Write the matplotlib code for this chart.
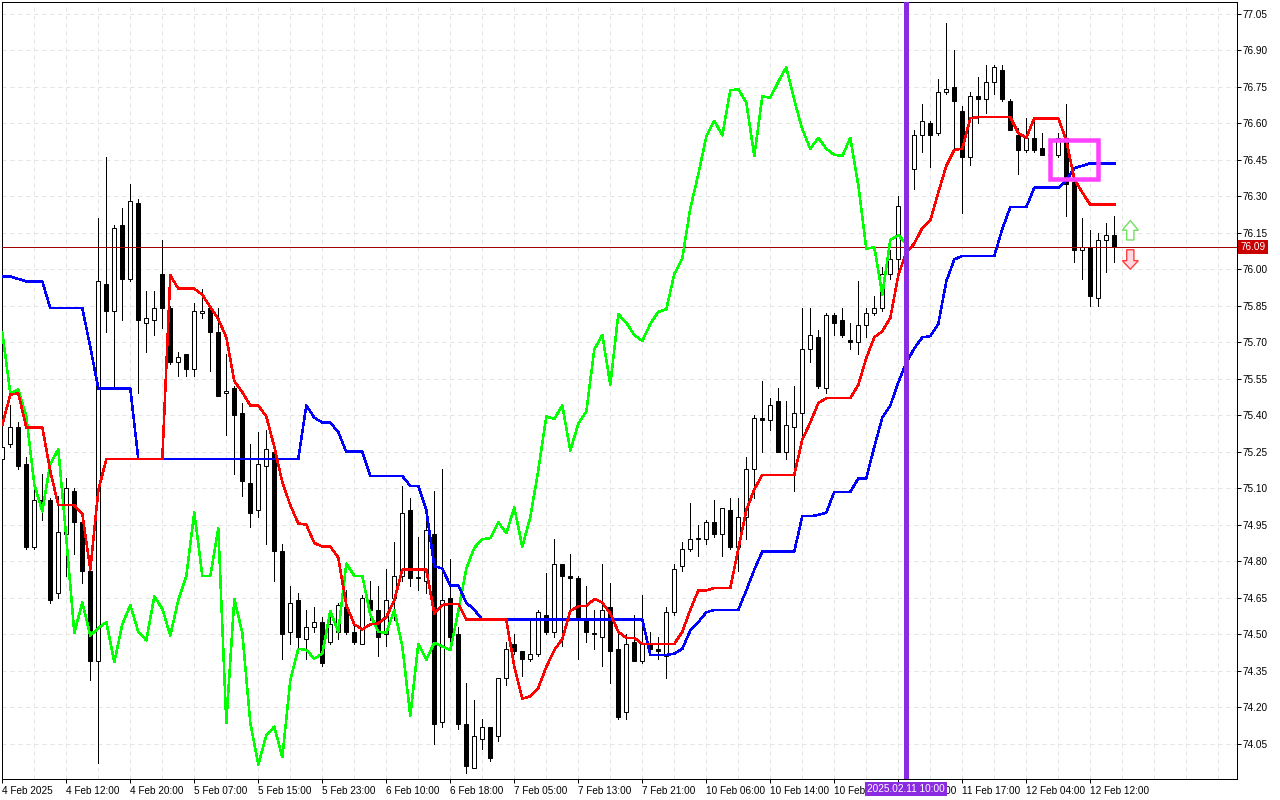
import numpy as np
import matplotlib
matplotlib.use('Agg')
import matplotlib.pyplot as plt
from matplotlib.patches import Polygon, Rectangle

plt.rcParams['font.family'] = ['Liberation Sans', 'DejaVu Sans']

# hourly candles
opens = [75.22, 75.28, 75.35, 75.20, 74.86, 75.05, 75.05, 74.67, 74.91, 75.09,
         74.96, 74.76, 74.39, 75.94, 75.83, 76.18, 75.96, 76.27, 75.78, 75.79,
         75.98, 75.84, 75.62, 75.65, 75.59, 75.82, 75.84, 75.74, 75.49, 75.51,
         75.41, 75.12, 75.01, 75.19, 75.25, 74.84, 74.51, 74.64, 74.48, 74.53,
         74.55, 74.47, 74.51, 74.61, 74.51, 74.46, 74.64, 74.60, 74.50, 74.65,
         74.74, 75.01, 74.73, 74.72, 74.91, 74.14, 74.65, 74.50, 74.13, 73.95,
         74.07, 74.12, 74.08, 74.32, 74.46, 74.43, 74.40, 74.42, 74.58, 74.51,
         74.79, 74.74, 74.73, 74.56, 74.50, 74.49, 74.61, 74.44, 74.18, 74.47,
         74.39, 74.46, 74.44, 74.41, 74.59, 74.78, 74.85, 74.89, 74.89, 74.96,
         74.91, 75.01, 74.86, 74.98, 75.18, 75.39, 75.38, 75.46, 75.25, 75.35,
         75.41, 75.67, 75.72, 75.51, 75.81, 75.79, 75.71, 75.70, 75.77, 75.82,
         75.84, 75.98, 76.04, 76.27, 76.41, 76.55, 76.60, 76.56, 76.73, 76.75,
         76.65, 76.46, 76.71, 76.70, 76.77, 76.82, 76.69, 76.55, 76.49, 76.54,
         76.50, 76.47, 76.47, 76.54, 76.36, 76.08, 76.09, 75.88, 76.12, 76.14]
closes = [75.27, 75.35, 75.19, 74.86, 75.05, 75.03, 74.64, 74.92, 75.10, 74.96,
          74.76, 74.39, 75.95, 75.83, 76.17, 75.96, 76.28, 75.79, 75.80, 75.84,
          75.84, 75.62, 75.64, 75.59, 75.83, 75.83, 75.74, 75.48, 75.50, 75.40,
          75.13, 75.00, 75.20, 75.26, 74.84, 74.50, 74.63, 74.49, 74.53, 74.55,
          74.38, 74.54, 74.62, 74.51, 74.47, 74.65, 74.60, 74.49, 74.64, 74.74,
          75.00, 74.73, 74.735, 74.93, 74.13, 74.64, 74.49, 74.13, 73.96, 74.08,
          74.12, 73.99, 74.32, 74.44, 74.43, 74.40, 74.42, 74.59, 74.51, 74.79,
          74.74, 74.73, 74.57, 74.51, 74.505, 74.60, 74.43, 74.16, 74.46, 74.39,
          74.46, 74.44, 74.43, 74.59, 74.77, 74.85, 74.89, 74.895, 74.96, 74.91,
          75.02, 74.86, 74.98, 75.18, 75.39, 75.38, 75.44, 75.25, 75.36, 75.41,
          75.67, 75.73, 75.52, 75.81, 75.78, 75.73, 75.70, 75.77, 75.82, 75.84,
          75.98, 76.04, 76.26, 76.40, 76.55, 76.61, 76.55, 76.73, 76.74, 76.69,
          76.46, 76.71, 76.70, 76.77, 76.83, 76.70, 76.57, 76.49, 76.54, 76.49,
          76.47, 76.47, 76.54, 76.35, 76.08, 76.09, 75.89, 76.12, 76.14, 76.09]
highs = [75.29, 75.44, 75.37, 75.23, 75.12, 75.16, 75.06, 75.07, 75.14, 75.10,
         74.98, 74.80, 76.21, 76.46, 76.18, 76.25, 76.35, 76.29, 75.91, 75.91,
         76.12, 75.85, 75.66, 75.65, 75.86, 75.92, 75.84, 75.84, 75.65, 75.52,
         75.45, 75.28, 75.33, 75.34, 75.26, 74.87, 74.70, 74.67, 74.60, 74.61,
         74.57, 74.59, 74.63, 74.68, 74.54, 74.66, 74.72, 74.70, 74.77, 74.88,
         75.11, 75.06, 74.90, 74.97, 75.09, 75.18, 74.81, 74.53, 74.30, 74.23,
         74.15, 74.12, 74.32, 74.47, 74.50, 74.43, 74.56, 74.60, 74.75, 74.89,
         74.79, 74.83, 74.74, 74.70, 74.60, 74.79, 74.71, 74.50, 74.50, 74.58,
         74.66, 74.51, 74.49, 74.61, 74.79, 74.88, 75.04, 74.95, 74.97, 75.05,
         75.02, 75.06, 75.06, 75.23, 75.40, 75.54, 75.47, 75.51, 75.46, 75.52,
         75.84, 75.84, 75.75, 75.82, 75.82, 75.84, 75.78, 75.95, 75.84, 75.89,
         76.01, 76.08, 76.30, 76.42, 76.57, 76.68, 76.61, 76.78, 77.01, 76.90,
         76.67, 76.73, 76.79, 76.84, 76.84, 76.84, 76.70, 76.58, 76.62, 76.62,
         76.56, 76.48, 76.56, 76.68, 76.36, 76.21, 76.16, 76.15, 76.19, 76.22]
lows = [75.21, 75.27, 75.18, 74.85, 74.85, 74.97, 74.63, 74.65, 74.74, 74.83,
        74.71, 74.31, 73.97, 75.74, 75.52, 75.79, 75.95, 75.49, 75.66, 75.73,
        75.76, 75.61, 75.56, 75.56, 75.56, 75.80, 75.58, 75.48, 75.32, 75.16,
        75.07, 74.94, 74.98, 74.87, 74.72, 74.40, 74.46, 74.44, 74.40, 74.51,
        74.37, 74.46, 74.48, 74.50, 74.46, 74.46, 74.56, 74.41, 74.45, 74.56,
        74.72, 74.70, 74.68, 74.67, 74.05, 74.12, 74.45, 74.11, 73.93, 73.95,
        74.03, 73.98, 74.06, 74.29, 74.42, 74.33, 74.39, 74.41, 74.50, 74.49,
        74.45, 74.59, 74.40, 74.47, 74.44, 74.37, 74.30, 74.15, 74.15, 74.39,
        74.38, 74.43, 74.40, 74.32, 74.58, 74.76, 74.84, 74.82, 74.87, 74.90,
        74.82, 74.85, 74.76, 74.89, 75.06, 75.25, 75.34, 75.25, 75.22, 75.09,
        75.32, 75.62, 75.51, 75.49, 75.73, 75.72, 75.67, 75.65, 75.72, 75.81,
        75.83, 75.96, 75.99, 76.26, 76.33, 76.48, 76.42, 76.55, 76.72, 76.49,
        76.23, 76.43, 76.60, 76.64, 76.72, 76.69, 76.57, 76.39, 76.48, 76.48,
        76.47, 76.45, 76.46, 76.22, 76.03, 75.96, 75.85, 75.85, 75.99, 76.03]

# indicator lines
red_line = [75.36, 75.485, 75.49, 75.35, 75.35, 75.35, 75.17, 75.03, 75.03, 75.03,
            74.995, 74.765, 75.09, 75.22, 75.22, 75.22, 75.22, 75.22, 75.22, 75.22,
            75.22, 75.975, 75.92, 75.92, 75.92, 75.895, 75.845, 75.795, 75.72, 75.54,
            75.495, 75.44, 75.44, 75.395, 75.27, 75.125, 75.03, 74.955, 74.95, 74.875,
            74.86, 74.86, 74.815, 74.62, 74.54, 74.52, 74.54, 74.545, 74.57, 74.64,
            74.765, 74.765, 74.765, 74.765, 74.585, 74.62, 74.625, 74.625, 74.56, 74.56,
            74.56, 74.56, 74.56, 74.56, 74.365, 74.235, 74.245, 74.28, 74.365, 74.435,
            74.48, 74.595, 74.615, 74.615, 74.645, 74.63, 74.585, 74.51, 74.485, 74.485,
            74.46, 74.46, 74.46, 74.46, 74.46, 74.51, 74.60, 74.68, 74.68, 74.69,
            74.69, 74.69, 74.85, 75.01, 75.095, 75.155, 75.155, 75.155, 75.155, 75.155,
            75.30, 75.37, 75.45, 75.47, 75.47, 75.47, 75.47, 75.525, 75.635, 75.72,
            75.745, 75.80, 75.975, 76.07, 76.105, 76.17, 76.20, 76.315, 76.425, 76.49,
            76.495, 76.62, 76.625, 76.625, 76.625, 76.625, 76.625, 76.56, 76.54, 76.62,
            76.62, 76.62, 76.62, 76.53, 76.37, 76.315, 76.265, 76.265, 76.265, 76.265]
blue_line = [75.97, 75.97, 75.96, 75.95, 75.95, 75.95, 75.84, 75.84, 75.84, 75.84,
             75.84, 75.68, 75.51, 75.51, 75.51, 75.51, 75.51, 75.22, 75.22, 75.22,
             75.22, 75.22, 75.22, 75.22, 75.22, 75.22, 75.22, 75.22, 75.22, 75.22,
             75.22, 75.22, 75.22, 75.22, 75.22, 75.22, 75.22, 75.22, 75.44, 75.39,
             75.37, 75.37, 75.33, 75.25, 75.25, 75.25, 75.15, 75.15, 75.15, 75.15,
             75.15, 75.11, 75.11, 75.01, 74.78, 74.77, 74.70, 74.70, 74.63, 74.60,
             74.56, 74.56, 74.56, 74.56, 74.56, 74.56, 74.56, 74.56, 74.56, 74.56,
             74.56, 74.56, 74.56, 74.56, 74.56, 74.56, 74.56, 74.56, 74.56, 74.56,
             74.56, 74.415, 74.415, 74.415, 74.42, 74.44, 74.515, 74.55, 74.59, 74.60,
             74.60, 74.60, 74.60, 74.68, 74.765, 74.84, 74.84, 74.84, 74.84, 74.84,
             74.985, 74.985, 74.99, 75.00, 75.085, 75.085, 75.085, 75.14, 75.14, 75.27,
             75.39, 75.44, 75.535, 75.615, 75.675, 75.72, 75.725, 75.775, 75.95, 76.04,
             76.055, 76.055, 76.055, 76.055, 76.055, 76.165, 76.255, 76.255, 76.255, 76.335,
             76.335, 76.335, 76.335, 76.365, 76.415, 76.425, 76.435, 76.435, 76.435, 76.435]
# this one stops 26 bars before the last candle
green_line = [75.74, 75.49, 75.505, 75.395, 75.115, 75.005, 75.20, 75.26, 74.895, 74.505,
              74.63, 74.495, 74.525, 74.55, 74.385, 74.54, 74.62, 74.51, 74.475, 74.655,
              74.605, 74.495, 74.64, 74.74, 75.00, 74.74, 74.74, 74.935, 74.135, 74.645,
              74.505, 74.135, 73.965, 74.085, 74.12, 73.995, 74.31, 74.44, 74.435, 74.40,
              74.42, 74.595, 74.51, 74.79, 74.74, 74.74, 74.58, 74.51, 74.505, 74.60,
              74.45, 74.165, 74.46, 74.395, 74.465, 74.45, 74.435, 74.595, 74.77, 74.855,
              74.89, 74.895, 74.96, 74.915, 75.02, 74.86, 74.98, 75.175, 75.395, 75.385,
              75.44, 75.255, 75.365, 75.415, 75.67, 75.73, 75.525, 75.815, 75.78, 75.73,
              75.705, 75.775, 75.825, 75.835, 75.98, 76.045, 76.25, 76.39, 76.545, 76.61,
              76.55, 76.735, 76.74, 76.685, 76.465, 76.71, 76.705, 76.77, 76.83, 76.695,
              76.575, 76.495, 76.54, 76.495, 76.47, 76.465, 76.54, 76.345, 76.085, 76.09,
              75.895, 76.12, 76.14, 76.105]

price_ticks = [77.05, 76.90, 76.75, 76.60, 76.45, 76.30, 76.15, 76.00, 75.85, 75.70,
               75.55, 75.40, 75.25, 75.10, 74.95, 74.80, 74.65, 74.50, 74.35, 74.20, 74.05]
time_labels = ['4 Feb 2025', '4 Feb 12:00', '4 Feb 20:00', '5 Feb 07:00', '5 Feb 15:00',
               '5 Feb 23:00', '6 Feb 10:00', '6 Feb 18:00', '7 Feb 05:00', '7 Feb 13:00',
               '7 Feb 21:00', '10 Feb 06:00', '10 Feb 14:00', '10 Feb 22:00', '11 Feb 09:00',
               '11 Feb 17:00', '12 Feb 04:00', '12 Feb 12:00']

last_price = 76.09
marker_bar = 113
marker_label = '2025.02.11 10:00'

px = 0.72  # one pixel in points at dpi 100

fig = plt.figure(figsize=(12.8, 8), dpi=100)
ax = fig.add_axes([2 / 1280, 1 - 779 / 800, 1235 / 1280, 777 / 800])

x = np.arange(len(opens))
o = np.array(opens)
c = np.array(closes)
up = c >= o

# candles
ax.vlines(x, lows, highs, color='black', lw=px, zorder=2, antialiased=False)
ax.bar(x[up], c[up] - o[up], 0.5, o[up], facecolor='white', edgecolor='black', lw=px, zorder=3)
ax.bar(x[~up], c[~up] - o[~up], 0.5, o[~up], facecolor='black', edgecolor='black', lw=px, zorder=3)

ax.axhline(last_price, color='#a00000', lw=px, zorder=4, antialiased=False)

ax.plot(x, green_line + [np.nan] * (len(x) - len(green_line)), color='#00ff00', lw=1.5 * px, zorder=5, antialiased=False)
ax.plot(x, blue_line, color='#0000ff', lw=1.5 * px, zorder=6, antialiased=False)
ax.plot(x, red_line, color='#ff0000', lw=1.5 * px, zorder=7, antialiased=False)

ax.axvline(marker_bar, color='#8a2be2', lw=5 * px, zorder=8, antialiased=False)

# box and arrows drawn on the chart
ax.add_patch(Rectangle((131, 76.37), 6, 0.16, fill=False, edgecolor='#ff40ff', lw=4.5 * px, zorder=9))
ax.add_patch(Polygon([(141, 76.20), (142, 76.16), (141.45, 76.16), (141.45, 76.12),
                      (140.55, 76.12), (140.55, 76.16), (140, 76.16)],
                     facecolor='white', edgecolor='#70e060', lw=1.4 * px, zorder=9))
ax.add_patch(Polygon([(141, 76.00), (142, 76.035), (141.45, 76.035), (141.45, 76.08),
                      (140.55, 76.08), (140.55, 76.035), (140, 76.035)],
                     facecolor='#ffd8e0', edgecolor='#ff4040', lw=1.4 * px, zorder=9))

ax.set_xlim(-0.3 / 8, 1234.7 / 8)
ax.set_ylim(73.905, 77.098)

ax.yaxis.tick_right()
ax.set_yticks(price_ticks)
ax.set_yticklabels([f'{p:.2f}' for p in price_ticks])
major_bars = np.arange(len(time_labels)) * 8
ax.set_xticks(major_bars)
ax.set_xticklabels(time_labels, ha='left')
ax.set_xticks(np.arange(0, 156, 4), minor=True)
ax.tick_params(axis='x', which='minor', length=0)
ax.tick_params(axis='x', which='major', length=3, width=px, labelsize=7.2, pad=2)
ax.tick_params(axis='y', length=3, width=px, labelsize=7.2, pad=1)

ax.grid(True, which='both', color='#e4e4e4', lw=px, ls=(0, (4, 4)), zorder=0)
ax.set_axisbelow(True)
for s in ax.spines.values():
    s.set_linewidth(px)

# current price tag and time tag
ax.text(1.0028, last_price, f'{last_price:.2f}', transform=ax.get_yaxis_transform(), color='white',
        fontsize=7.2, va='center', ha='left', clip_on=False, zorder=10,
        bbox=dict(facecolor='#c80000', edgecolor='none', pad=1.5))
ax.text(marker_bar, -0.0129, marker_label, transform=ax.get_xaxis_transform(), color='white',
        fontsize=7.2, va='center', ha='center', clip_on=False, zorder=10,
        bbox=dict(facecolor='#8a2be2', edgecolor='none', pad=1.5))

fig.savefig('out.png', dpi=100)
